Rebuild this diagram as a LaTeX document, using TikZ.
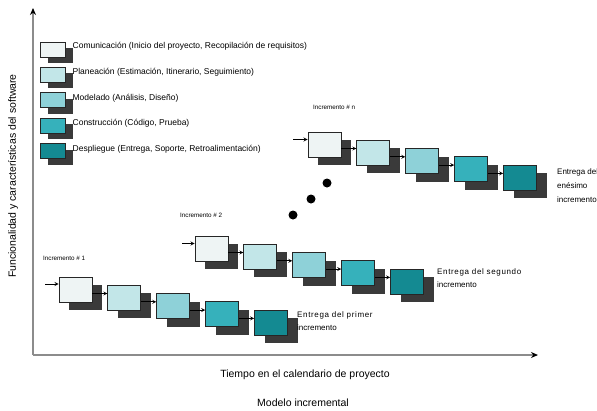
\documentclass[tikz,border=0pt]{standalone}
\usepackage{fontspec}
\setmainfont{Liberation Sans}
\usepackage{xcolor}
\usetikzlibrary{arrows,arrows.meta,positioning,shadows}
\definecolor{phComm}{HTML}{EEF4F4}
\definecolor{phPlan}{HTML}{C2E6E8}
\definecolor{phModel}{HTML}{8ED1D8}
\definecolor{phBuild}{HTML}{36B1BB}
\definecolor{phDeploy}{HTML}{148A92}
\definecolor{incShadow}{HTML}{3A3A3A}
\definecolor{axisGray}{HTML}{8C8C8C}

\begin{document}
\begin{tikzpicture}[
  x=1pt, y=-1pt,
  >=stealth,
  node distance=15pt,
  phase/.style={
    draw=black!85,
    line width=0.9pt,
    minimum width=33pt,
    minimum height=25pt,
    inner sep=0pt,
    general shadow={fill=incShadow,shadow xshift=10pt,shadow yshift=-8pt}
  },
  keybox/.style={
    draw=black!85,
    line width=0.9pt,
    minimum width=25pt,
    minimum height=15pt,
    inner sep=0pt,
    general shadow={fill=incShadow,shadow xshift=8pt,shadow yshift=-6pt}
  },
  keytext/.style={anchor=west,inner sep=0pt,font=\fontsize{8.5}{10}\selectfont},
  inclabel/.style={anchor=west,inner sep=0pt,font=\fontsize{6.3}{7}\selectfont},
  delivery/.style={anchor=north west,align=left,inner sep=0pt,
    font=\fontsize{8}{13.5}\selectfont},
  flow/.style={->,line width=0.8pt},
  axis/.style={-{Stealth[black,length=7pt,width=6pt]},line width=1.6pt,draw=axisGray},
  axislabel/.style={font=\fontsize{10.5}{12}\selectfont},
  dot/.style={circle,fill=black,minimum size=9pt,inner sep=0pt}
]
  \useasboundingbox (0,0) rectangle (597,410);

  % axes
  \coordinate (origin) at (33,355);
  \coordinate (ytop) at (33,8);
  \coordinate (xend) at (538,355);
  \draw[axis] (origin)--(ytop);
  \draw[axis] (origin)--(xend);
  \node[axislabel,rotate=90] (ylabel) at (13,176)
    {Funcionalidad y características del software};
  \node[axislabel] (xlabel) at (305,375)
    {Tiempo en el calendario de proyecto};
  \node[axislabel] (title) at (303,403) {Modelo incremental};

  % legend
  \node[keybox,fill=phComm] (k1) at (52.5,49.5) {};
  \node[keybox,fill=phPlan,below=9.5pt of k1] (k2) {};
  \node[keybox,fill=phModel,below=9.5pt of k2] (k3) {};
  \node[keybox,fill=phBuild,below=9.5pt of k3] (k4) {};
  \node[keybox,fill=phDeploy,below=9.5pt of k4] (k5) {};
  \node[keytext,right=7pt of k1,yshift=3pt]
    {Comunicación (Inicio del proyecto, Recopilación de requisitos)};
  \node[keytext,right=7pt of k2,yshift=2.5pt]
    {Planeación (Estimación, Itinerario, Seguimiento)};
  \node[keytext,right=7pt of k3,yshift=2.5pt] {Modelado (Análisis, Diseño)};
  \node[keytext,right=7pt of k4,yshift=2.5pt] {Construcción (Código, Prueba)};
  \node[keytext,right=7pt of k5,yshift=2pt]
    {Despliegue (Entrega, Soporte, Retroalimentación)};

  % increment 1
  \node[inclabel] (lbla) at (43,258) {Incremento \# 1};
  \node[phase,fill=phComm] (a1) at (75.5,289.5) {};
  \node[phase,fill=phPlan,right=of a1,yshift=-8.3pt] (a2) {};
  \node[phase,fill=phModel,right=of a2,yshift=-8.3pt] (a3) {};
  \node[phase,fill=phBuild,right=of a3,yshift=-8.3pt] (a4) {};
  \node[phase,fill=phDeploy,right=of a4,yshift=-8.3pt] (a5) {};
  \node[delivery] (enta) at (297,311)
    {{\addfontfeatures{LetterSpace=8}Entrega del primer}\\incremento};

  % increment 2
  \node[inclabel] (lblb) at (180,215) {Incremento \# 2};
  \node[phase,fill=phComm] (b1) at (211.5,248.5) {};
  \node[phase,fill=phPlan,right=of b1,yshift=-8.3pt] (b2) {};
  \node[phase,fill=phModel,right=of b2,yshift=-8.3pt] (b3) {};
  \node[phase,fill=phBuild,right=of b3,yshift=-8.3pt] (b4) {};
  \node[phase,fill=phDeploy,right=of b4,yshift=-8.3pt] (b5) {};
  \node[delivery] (entb) at (437,268)
    {{\addfontfeatures{LetterSpace=8}Entrega del segundo}\\incremento};

  % increment n
  \node[inclabel] (lblc) at (313,107) {Incremento \# n};
  \node[phase,fill=phComm] (c1) at (324.5,144.5) {};
  \node[phase,fill=phPlan,right=of c1,yshift=-8.3pt] (c2) {};
  \node[phase,fill=phModel,right=of c2,yshift=-8.3pt] (c3) {};
  \node[phase,fill=phBuild,right=of c3,yshift=-8.3pt] (c4) {};
  \node[phase,fill=phDeploy,right=of c4,yshift=-8.3pt] (c5) {};
  \node[delivery,font=\fontsize{8}{14}\selectfont] (entc) at (557,168)
    {Entrega del\\enésimo\\incremento};

  \node[dot] (d1) at (293,215) {};
  \node[dot] (d2) at (311,199) {};
  \node[dot] (d3) at (327,183) {};

  % flow between phases
  \coordinate (a0) at (45,284);
  \coordinate (b0) at (182,243.5);
  \coordinate (c0) at (293,139.5);
  \draw[flow] (a0)--(a0 -| a1.west);
  \draw[flow] (b0)--(b0 -| b1.west);
  \draw[flow] (c0)--(c0 -| c1.west);
  \foreach \inc in {a,b,c}{
    \draw[flow] ([yshift=-4pt]\inc1.east)--([yshift=4.3pt]\inc2.west);
    \draw[flow] ([yshift=-4pt]\inc2.east)--([yshift=4.3pt]\inc3.west);
    \draw[flow] ([yshift=-4pt]\inc3.east)--([yshift=4.3pt]\inc4.west);
    \draw[flow] ([yshift=-4pt]\inc4.east)--([yshift=4.3pt]\inc5.west);
  }
\end{tikzpicture}
\end{document}
